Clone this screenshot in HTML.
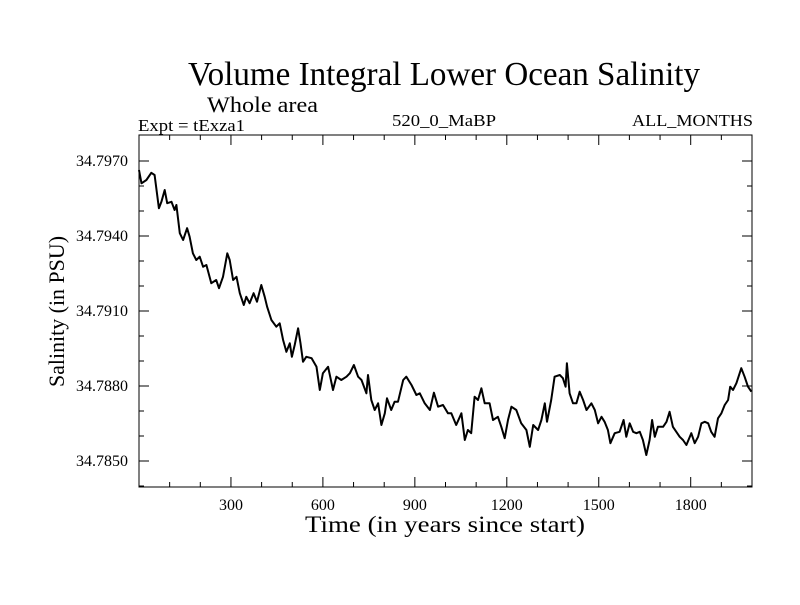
<!DOCTYPE html>
<html><head><meta charset="utf-8"><style>
body{margin:0;background:#fff;}
svg text{font-family:"Liberation Serif",serif;fill:#000;}
</style></head><body>
<svg id="chart" width="800" height="600" xmlns="http://www.w3.org/2000/svg">
<rect width="800" height="600" fill="#fff"/>
<text x="188" y="85" font-size="34" textLength="512" lengthAdjust="spacingAndGlyphs">Volume Integral Lower Ocean Salinity</text>
<text x="207" y="112" font-size="22" textLength="111" lengthAdjust="spacingAndGlyphs">Whole area</text>
<text x="138" y="131" font-size="17" textLength="107" lengthAdjust="spacingAndGlyphs">Expt = tExza1</text>
<text x="392" y="126" font-size="17" textLength="104" lengthAdjust="spacingAndGlyphs">520_0_MaBP</text>
<text x="632" y="126" font-size="17" textLength="121" lengthAdjust="spacingAndGlyphs">ALL_MONTHS</text>
<text x="305" y="532" font-size="23" textLength="280" lengthAdjust="spacingAndGlyphs">Time (in years since start)</text>
<text x="-75" y="0" font-size="22" textLength="151" lengthAdjust="spacingAndGlyphs" transform="translate(64,312) rotate(-90)">Salinity (in PSU)</text>
<g id="ticks"></g>
<path id="series" fill="none" stroke="#000" stroke-width="2" stroke-linejoin="round"/>
<rect x="139" y="135" width="613" height="352" fill="none" stroke="#000" stroke-width="1"/>
</svg>
<script>
const years=[0,8,24,40,51,65,73,84,92,106,116,122,133,144,157,165,176,187,198,209,220,236,252,261,274,288,296,307,318,329,342,350,361,374,385,399,410,418,432,448,459,470,481,492,499,508,519,527,535,546,563,579,590,600,617,633,644,660,677,688,701,715,726,742,747,758,769,780,791,802,809,823,834,845,862,872,889,905,916,932,949,962,976,992,1008,1019,1035,1052,1063,1073,1084,1095,1106,1117,1128,1144,1155,1171,1182,1193,1204,1215,1231,1247,1264,1275,1286,1302,1313,1324,1331,1345,1356,1373,1383,1392,1396,1405,1416,1427,1438,1449,1460,1476,1487,1498,1509,1519,1530,1538,1552,1568,1581,1590,1601,1612,1623,1634,1644,1655,1666,1674,1683,1693,1710,1721,1731,1742,1753,1764,1775,1786,1802,1813,1824,1835,1846,1857,1867,1878,1889,1900,1911,1922,1929,1938,1949,1965,1976,1987,1998];
const salinity=[34.79664,34.79611,34.79624,34.79653,34.79644,34.79511,34.79537,34.79584,34.79531,34.79537,34.79504,34.79524,34.79411,34.79384,34.79431,34.79397,34.79331,34.79304,34.79317,34.79277,34.79284,34.79211,34.79224,34.79191,34.79237,34.79331,34.79304,34.79224,34.79237,34.79171,34.79124,34.79157,34.79131,34.79171,34.79137,34.79204,34.79157,34.79117,34.79064,34.79037,34.79051,34.78984,34.78937,34.78971,34.78917,34.78964,34.79031,34.78971,34.78897,34.78917,34.78911,34.78877,34.78784,34.78851,34.78877,34.78784,34.78837,34.78824,34.78837,34.78851,34.78884,34.78837,34.78824,34.78771,34.78844,34.78744,34.78704,34.78731,34.78644,34.78691,34.78751,34.78704,34.78737,34.78737,34.78824,34.78837,34.78804,34.78764,34.78771,34.78731,34.78704,34.78773,34.78717,34.78724,34.78691,34.78691,34.78644,34.78691,34.78584,34.78624,34.78611,34.78757,34.78744,34.78791,34.78731,34.78731,34.78664,34.78677,34.78637,34.78591,34.78664,34.78717,34.78704,34.78651,34.78624,34.78557,34.78644,34.78624,34.78664,34.78731,34.78657,34.78744,34.78837,34.78844,34.78831,34.78797,34.78891,34.78771,34.78731,34.78731,34.78777,34.78744,34.78704,34.78731,34.78704,34.78651,34.78677,34.78657,34.78624,34.78571,34.78611,34.78617,34.78664,34.78597,34.78651,34.78617,34.78611,34.78617,34.78584,34.78524,34.78584,34.78664,34.78597,34.78637,34.78637,34.78657,34.78697,34.78637,34.78617,34.78597,34.78584,34.78564,34.78611,34.78571,34.78597,34.78651,34.78657,34.78651,34.78617,34.78597,34.78671,34.78691,34.78724,34.78744,34.78797,34.78784,34.78811,34.78871,34.78837,34.78797,34.78777];
const xTickLabels=[300,600,900,1200,1500,1800];
const yTickLabels=[34.7970,34.7940,34.7910,34.7880,34.7850];
const X0=139,X1=752,Y0=135,Y1=487,XMIN=0,XMAX=2000,YMIN=34.78396,YMAX=34.79804;
const sx=v=>X0+(v-XMIN)/(XMAX-XMIN)*(X1-X0);
const sy=v=>Y1-(v-YMIN)/(YMAX-YMIN)*(Y1-Y0);
const NS='http://www.w3.org/2000/svg';
let d='';
years.forEach((y,i)=>{d+=(i?'L':'M')+sx(y).toFixed(1)+','+sy(salinity[i]).toFixed(1);});
document.getElementById('series').setAttribute('d',d);
const g=document.getElementById('ticks');
function line(x1,y1,x2,y2){const l=document.createElementNS(NS,'line');
l.setAttribute('x1',x1);l.setAttribute('y1',y1);l.setAttribute('x2',x2);l.setAttribute('y2',y2);l.setAttribute('stroke','#000');


g.appendChild(l);}
function text(x,y,s,anchor,name){const t=document.createElementNS(NS,'text');
t.setAttribute('x',x);t.setAttribute('y',y);t.setAttribute('font-size','16');t.setAttribute('text-anchor',anchor);t.textContent=s;


g.appendChild(t);}
for(let v=100;v<XMAX;v+=100){const x=sx(v);const major=v%300===0;const L=major?10:5;
line(x,Y1,x,Y1-L);line(x,Y0,x,Y0+L);}
xTickLabels.forEach(v=>text(sx(v),510,String(v),'middle','x-tick-label'));
for(let k=0;k<=13;k++){const v=34.7850+(k-1)*0.001;if(v<YMIN||v>YMAX)continue;const y=sy(v);
const major=Math.abs(((v-34.7850)/0.003)-Math.round((v-34.7850)/0.003))<1e-6;const L=major?10:5;
line(X0,y,X0+L,y);line(X1,y,X1-L,y);}
yTickLabels.forEach(v=>text(128,sy(v)+5,v.toFixed(4),'end','y-tick-label'));
</script>
</body></html>
